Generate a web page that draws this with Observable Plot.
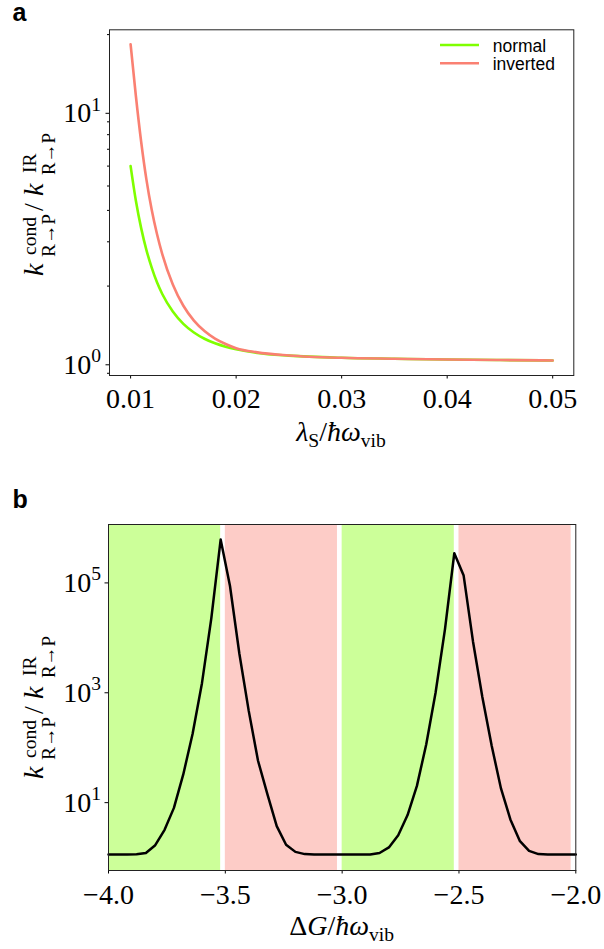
<!DOCTYPE html>
<html><head><meta charset="utf-8">
<script src="https://cdn.jsdelivr.net/npm/d3@7"></script>
<script src="https://cdn.jsdelivr.net/npm/@observablehq/plot@0.6"></script>
<style>
body{margin:0;background:#fff;}
#a,#b{position:relative;width:604px;}
svg{display:block;}
</style></head><body>
<div id="a"></div><div id="b"></div>
<script>
// ---- Panel a data ----
const lambdaS = [0.010,0.0105,0.011,0.0115,0.012,0.0125,0.013,0.014,0.015,0.016,0.017,0.018,0.019,0.020,0.022,0.025,0.030,0.035,0.040,0.045,0.050];
const normalRate = [6.0,4.37,3.40,2.78,2.37,2.07,1.86,1.585,1.416,1.308,1.235,1.184,1.148,1.121,1.084,1.058,1.037,1.028,1.021,1.016,1.012];
const invertedRate = [18.3,11.4,7.5,5.3,4.02,3.22,2.68,2.03,1.67,1.458,1.325,1.237,1.177,1.133,1.09,1.06,1.037,1.028,1.021,1.016,1.012];
const seriesNames = ["normal","inverted"];
const xTicksA = [0.01,0.02,0.03,0.04,0.05];
const yTicksA = [1,10];
const yMinorA = [0.9,2,3,4,5,6,7,8,9,20];

// ---- Panel b data ----
const deltaG = [-4.00,-3.96,-3.92,-3.88,-3.84,-3.80,-3.76,-3.72,-3.68,-3.64,-3.60,-3.56,-3.52,-3.48,-3.44,-3.40,-3.36,-3.32,-3.28,-3.24,-3.20,-3.16,-3.12,-3.08,-3.04,-3.00,-2.96,-2.92,-2.88,-2.84,-2.80,-2.76,-2.72,-2.68,-2.64,-2.60,-2.56,-2.52,-2.48,-2.44,-2.40,-2.36,-2.32,-2.28,-2.24,-2.20,-2.16,-2.12,-2.08,-2.04,-2.00];
const rateB = [1,1,1,1.01,1.07,1.48,2.82,7.08,28.8,158,1318,19950,543000,77600,4570,417,51,12.6,3.3,1.51,1.12,1.02,1,1,1,1,1,1,1,1.07,1.35,2.24,5.25,17.8,102,891,12600,305500,120000,7590,741,95.5,15.8,4.37,1.78,1.17,1.02,1,1,1,1];
const xTicksB = [-4,-3.5,-3,-2.5,-2];
const yTicksB = [10,1000,100000];
const spanStart = [-4,-3.5,-3,-2.5];
const spanEnd = [-3.52,-3.02,-2.52,-2.02];
const spanRegime = ["normal","inverted","normal","inverted"];

const colorLine = {normal: "#7fff00", inverted: "#fa8072"};
const colorSpan = {normal: "#ccff99", inverted: "#fdccc7"};
const SERIF = "'Liberation Serif', 'Times New Roman', serif";
const SANS = "'Liberation Sans', Arial, sans-serif";

const dataA = [];
lambdaS.forEach((l,i) => { dataA.push({x:l, y:normalRate[i], s:"normal"}); });
lambdaS.forEach((l,i) => { dataA.push({x:l, y:invertedRate[i], s:"inverted"}); });
const dataB = deltaG.map((g,i) => ({x:g, y:rateB[i]}));
const spans = spanStart.map((s,i) => ({x1:s, x2:spanEnd[i], r:spanRegime[i]}));

const supFmt = d => "10^" + Math.round(Math.log10(d));

const plotA = Plot.plot({
  width: 604, height: 470,
  marginLeft: 109, marginRight: 30.7, marginTop: 29.3, marginBottom: 95,
  x: {domain: [0.008, 0.052]},
  y: {type: "log", domain: [0.882, 20.9]},
  style: {fontFamily: SERIF, fontSize: "28px", background: "white", color: "black", overflow: "visible"},
  marks: [
    Plot.line(dataA, {x: "x", y: "y", z: "s", stroke: d => colorLine[d.s], strokeWidth: 2.6, curve: "monotone-x"}),
    Plot.axisX({ticks: xTicksA, tickSize: 3.5, tickPadding: 9, tickFormat: d3.format(".2f"), label: null}),
    Plot.axisY({ticks: yTicksA, tickSize: 3.5, tickPadding: 5, dy: 3, tickFormat: supFmt, label: null}),
    Plot.axisY({ticks: yMinorA, tickSize: 2, tickFormat: () => "", label: null}),
    Plot.frame({stroke: "#222", strokeWidth: 1})
  ]
});

const plotB = Plot.plot({
  width: 604, height: 479,
  marginLeft: 108, marginRight: 28.7, marginTop: 54, marginBottom: 79,
  x: {domain: [-4, -2]},
  y: {type: "log", domain: [0.513, 1.02e6]},
  style: {fontFamily: SERIF, fontSize: "28px", background: "white", color: "black", overflow: "visible"},
  marks: [
    Plot.rect(spans, {x1: "x1", x2: "x2", fill: d => colorSpan[d.r]}),
    Plot.line(dataB, {x: "x", y: "y", stroke: "black", strokeWidth: 2.5}),
    Plot.axisX({ticks: xTicksB, tickSize: 3.5, tickPadding: 10, tickFormat: d3.format(".1f"), label: null}),
    Plot.axisY({ticks: yTicksB, tickSize: 3.5, tickPadding: 4, dy: 3, tickFormat: supFmt, label: null}),
    Plot.frame({stroke: "#222", strokeWidth: 1})
  ]
});

document.getElementById("a").appendChild(plotA);
document.getElementById("b").appendChild(plotB);

function superscripts(svg) {
  d3.select(svg).selectAll('g[aria-label="y-axis tick label"] text').each(function() {
    const t = this.textContent;
    if (!t.includes("^")) return;
    const [b, e] = t.split("^");
    const s = d3.select(this);
    s.text(b);
    s.append("tspan").attr("font-size", "0.7em").attr("dy", "-0.6em").text(e);
  });
}

// y label: k^cond_{R→P} / k^IR_{R→P}, rotated; start = screen y where the text begins (bottom)
function yLabel(svg, bx, start) {
  const g = d3.select(svg).append("g").attr("font-family", SERIF).attr("fill", "black")
    .attr("text-anchor", "start")
    .attr("transform", `translate(${bx},${start}) rotate(-90)`);
  const main = 28, scr = 19.6;
  function piece(txt, x, y, size, italic, len) {
    const t = g.append("text").attr("x", x).attr("y", y).attr("font-size", size)
      .attr("font-style", italic ? "italic" : "normal").text(txt);
    if (len) t.attr("textLength", len).attr("lengthAdjust", "spacingAndGlyphs");
  }
  piece("k", 1, 0, main, true);
  piece("cond", 22, -7, scr, false);
  piece("R\u2192P", 20, 11.5, scr, false, 43);
  piece("/", 66, 0, main, false);
  piece("k", 81, 0, main, true);
  piece("IR", 104, -7, scr, false);
  piece("R\u2192P", 102, 11.5, scr, false, 42);
}

function xLabel(svg, cx, by, parts) {
  const t = d3.select(svg).append("text").attr("x", cx).attr("y", by)
    .attr("text-anchor", "middle").attr("font-family", SERIF).attr("font-size", 28).attr("fill", "black");
  let lowered = false;
  parts.forEach(p => {
    const ts = t.append("tspan").text(p.t).attr("font-style", p.it ? "italic" : "normal");
    if (p.sub) { ts.attr("font-size", 19.6); if (!lowered) { ts.attr("dy", 6); lowered = true; } }
    else if (lowered) { ts.attr("dy", -6); lowered = false; }
  });
}

function letter(svg, txt, x, y) {
  d3.select(svg).append("text").attr("x", x).attr("y", y).attr("font-family", SANS)
    .attr("text-anchor", "start")
    .attr("font-weight", "bold").attr("font-size", 25).attr("fill", "black").text(txt);
}

superscripts(plotA);
superscripts(plotB);
yLabel(plotA, 43.3, 277);
yLabel(plotB, 43.3, 310);
xLabel(plotA, 341, 440.7, [{t:"\u03bb", it:true},{t:"S", sub:true},{t:"/"},{t:"\u0127\u03c9", it:true},{t:"vib", sub:true}]);
xLabel(plotB, 341.6, 465, [{t:"\u0394"},{t:"G", it:true},{t:"/"},{t:"\u0127\u03c9", it:true},{t:"vib", sub:true}]);
letter(plotA, "a", 12.5, 20.7);
letter(plotB, "b", 12.5, 38.3);

// legend for panel a
const leg = d3.select(plotA).append("g").attr("font-family", SANS).attr("font-size", 17.5)
  .attr("text-anchor", "start");
const legY = [45, 63.3];
seriesNames.forEach((s, i) => {
  leg.append("line").attr("x1", 440).attr("x2", 479).attr("y1", legY[i]).attr("y2", legY[i])
    .attr("stroke", colorLine[s]).attr("stroke-width", 2.6);
  leg.append("text").attr("x", 492.7).attr("y", legY[i] + 6.5).attr("fill", "black").text(s);
});
</script>
</body></html>
